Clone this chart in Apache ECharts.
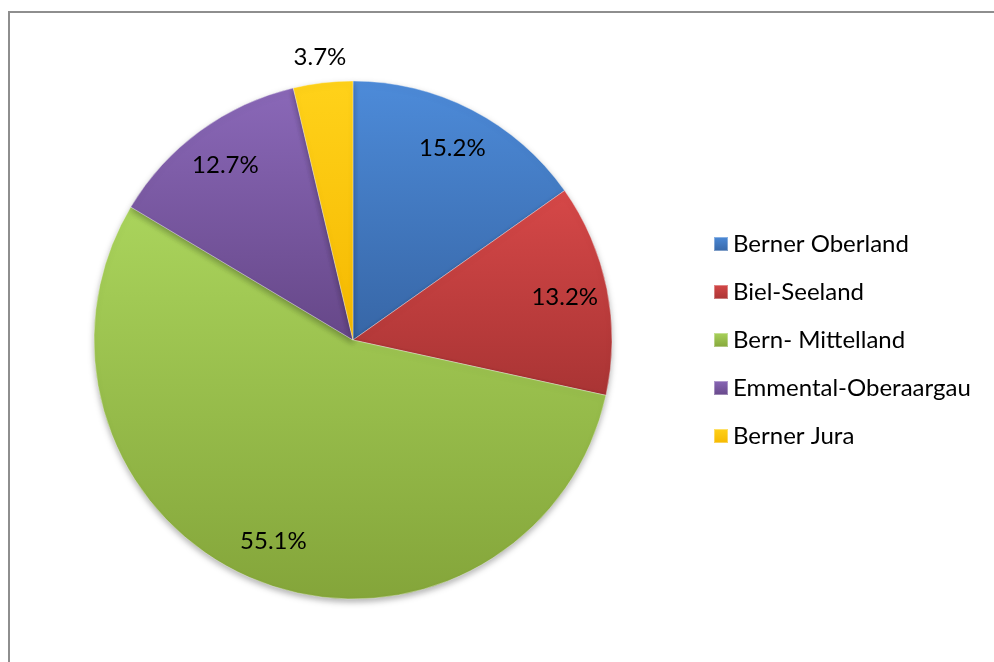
<!DOCTYPE html>
<html>
<head>
<meta charset="utf-8">
<style>
  html, body { margin: 0; padding: 0; background: #fff; }
  #frame { position: absolute; left: 8px; top: 11px; width: 1100px; height: 800px; border: 2px solid #8e8e8e; }
  #chart { position: absolute; left: 0; top: 0; width: 994px; height: 662px; }
</style>
<script src="https://cdn.jsdelivr.net/npm/echarts@6/dist/echarts.min.js"></script>
</head>
<body>
<div id="frame"></div>
<div id="chart"></div>
<script>
// Anteile nach Verwaltungsregion (%)
const regions = ['Berner Oberland', 'Biel-Seeland', 'Bern- Mittelland', 'Emmental-Oberaargau', 'Berner Jura']
const shares = [15.2, 13.2, 55.1, 12.7, 3.7]
// Label ausserhalb des Kuchens
const outsideLabels = ['Berner Jura']

// Farben: hell oben, dunkel unten (Excel-Bevel-Look)
const colorTop = ['#4d8bd9', '#d64848', '#aad45c', '#8a68b8', '#ffd21a']
const colorBottom = ['#3766a6', '#a93434', '#84a53a', '#664788', '#f5b800']

const font = 'Lato, "Liberation Sans", sans-serif'

const chart = echarts.init(document.getElementById('chart'), null, { renderer: 'canvas' })

function grad(i) {
  return new echarts.graphic.LinearGradient(0, 0, 0, 1, [
    { offset: 0, color: colorTop[i] },
    { offset: 1, color: colorBottom[i] }
  ])
}

const fmt = p => p.value.toFixed(1) + '%'

const mainData = regions.map((name, i) => ({
  name,
  value: shares[i],
  itemStyle: { color: grad(i) }
}))

// nur fuer Beschriftungen (transparent)
const innerLabelData = regions.map((name, i) => ({
  name,
  value: shares[i],
  label: { show: outsideLabels.indexOf(name) < 0 }
}))
const outerLabelData = regions.map((name, i) => ({
  name,
  value: shares[i],
  label: { show: outsideLabels.indexOf(name) >= 0 }
}))

const labelStyle = {
  position: 'inside',
  formatter: fmt,
  color: '#000',
  fontSize: 24,
  fontFamily: font
}

const option = {
  animation: false,
  color: colorBottom,
  legend: {
    orient: 'vertical',
    left: 708,
    top: 227,
    itemWidth: 14,
    itemHeight: 14,
    itemGap: 24,
    icon: 'rect',
    selectedMode: false,
    textStyle: {
      color: '#000',
      fontSize: 24,
      fontFamily: font
    },
    data: regions
  },
  series: [
    {
      type: 'pie',
      center: [353, 340],
      radius: [0, 259],
      startAngle: 90,
      clockwise: true,
      silent: true,
      label: { show: false },
      labelLine: { show: false },
      itemStyle: {
        borderColor: 'rgba(255,255,255,0.35)',
        borderWidth: 1,
        shadowBlur: 6,
        shadowOffsetY: 3,
        shadowColor: 'rgba(0,0,0,0.3)'
      },
      data: mainData
    },
    {
      type: 'pie',
      center: [353, 340],
      radius: [167, 259],
      startAngle: 90,
      silent: true,
      itemStyle: { color: 'rgba(0,0,0,0)' },
      label: labelStyle,
      labelLine: { show: false },
      data: innerLabelData
    },
    {
      type: 'pie',
      center: [353, 340],
      radius: [259, 305],
      startAngle: 90,
      silent: true,
      itemStyle: { color: 'rgba(0,0,0,0)' },
      label: labelStyle,
      labelLine: { show: false },
      data: outerLabelData
    }
  ]
}

chart.setOption(option)
</script>
</body>
</html>
